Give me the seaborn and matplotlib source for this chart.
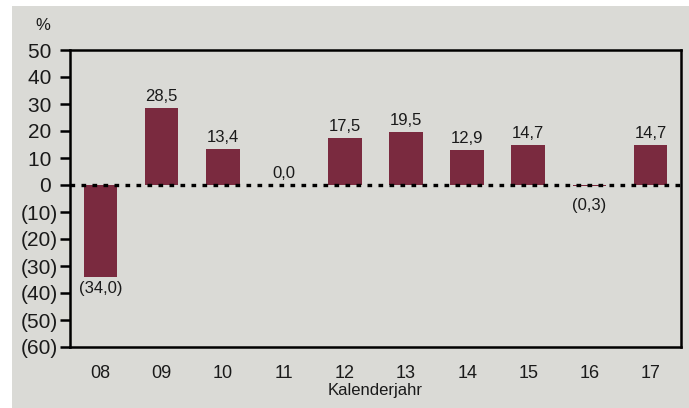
import matplotlib
matplotlib.use("Agg")
import matplotlib.pyplot as plt
import seaborn as sns
import pandas as pd
from matplotlib.patches import Rectangle
from matplotlib import font_manager

years = ["08", "09", "10", "11", "12", "13", "14", "15", "16", "17"]
values = [-34.0, 28.5, 13.4, 0.0, 17.5, 19.5, 12.9, 14.7, -0.3, 14.7]
value_labels = ["(34,0)", "28,5", "13,4", "0,0", "17,5", "19,5", "12,9", "14,7", "(0,3)", "14,7"]
yticks = [50, 40, 30, 20, 10, 0, -10, -20, -30, -40, -50, -60]
ytick_labels = ["50 ", "40 ", "30 ", "20 ", "10 ", "0 ", "(10)", "(20)", "(30)", "(40)", "(50)", "(60)"]

avail = {f.name for f in font_manager.fontManager.ttflist}
fams = [f for f in ["Liberation Sans Narrow", "Liberation Sans", "DejaVu Sans"] if f in avail]
plt.rcParams["font.family"] = fams

bg = "#dadad6"
bar_color = "#7a2a3f"

df = pd.DataFrame({"year": years, "value": values})

fig = plt.figure(figsize=(6.89, 4.08), dpi=100)
fig.patch.set_facecolor("white")
fig.patches.append(Rectangle((12 / 689, 0), 1 - 12 / 689, 1 - 6 / 408,
                             transform=fig.transFigure, facecolor=bg,
                             edgecolor="none", zorder=-10))
ax = fig.add_axes([70 / 689, 1 - 347 / 408, (681 - 70) / 689, (347 - 50) / 408])
ax.set_facecolor(bg)

sns.barplot(data=df, x="year", y="value", color=bar_color, width=0.55,
            saturation=1, ax=ax, zorder=2)

for bar, v, lab in zip(ax.containers[0], values, value_labels):
    xc = bar.get_x() + bar.get_width() / 2
    if v >= 0:
        ax.annotate(lab, (xc, v), xytext=(0, 3), textcoords="offset points",
                    ha="center", va="bottom", fontsize=12, color="#1a1a1a")
    else:
        off = 3 if abs(v) > 1 else 9
        ax.annotate(lab, (xc, v), xytext=(0, -off), textcoords="offset points",
                    ha="center", va="top", fontsize=12, color="#1a1a1a")

ax.axhline(0, color="black", lw=2.4, linestyle=(0, (1.4, 1.9)), zorder=4)

ax.set_ylim(-60, 50)
ax.set_xlim(-0.5, 9.5)
ax.set_yticks(yticks)
ax.set_yticklabels(ytick_labels, fontsize=15, color="#1a1a1a")
ax.tick_params(axis="y", direction="out", length=7, width=1.8, pad=2)
ax.tick_params(axis="x", length=0, pad=13, labelsize=13, labelcolor="#1a1a1a")
ax.set_xlabel("Kalenderjahr", fontsize=12, labelpad=1, color="#1a1a1a")
ax.set_ylabel("")
for s in ax.spines.values():
    s.set_visible(True)
    s.set_linewidth(1.8)
    s.set_color("black")

fig.text(43 / 689, 1 - 25 / 408, "%", fontsize=12, ha="center", va="center", color="#1a1a1a")

fig.savefig("out.png", dpi=100, facecolor="white")
